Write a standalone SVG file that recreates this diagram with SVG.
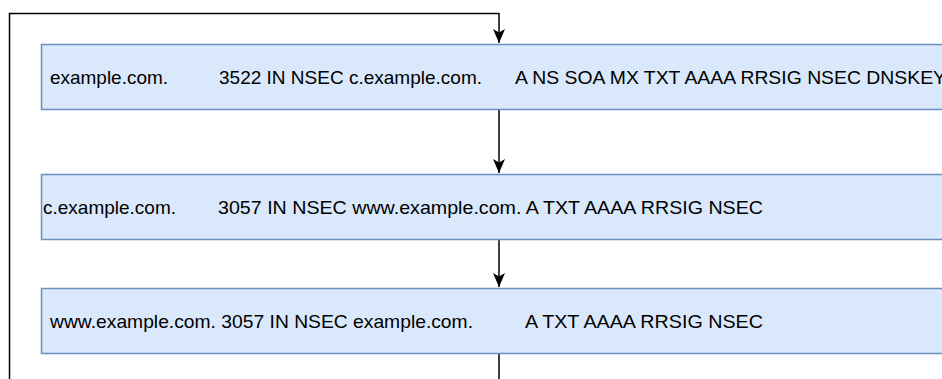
<svg xmlns="http://www.w3.org/2000/svg" width="942" height="379" viewBox="0 0 942 379">
  <style>
    .rec { fill: #dae8fc; stroke: #6c8ebf; stroke-width: 1.5; }
    .lbl { font-family: "Liberation Sans", Arial, Helvetica, sans-serif; font-size: 19px; fill: #000; }
    .edge { fill: none; stroke: #000; stroke-width: 1.5; }
  </style>
  <defs>
    <marker id="arrow" markerUnits="userSpaceOnUse" viewBox="0 0 14 12" refX="14" refY="6" markerWidth="14" markerHeight="12" orient="auto">
      <path d="M0,0 L14,6 L0,12 L3.5,6 Z" fill="#000"/>
    </marker>
  </defs>

  <!-- NSEC chain links -->
  <g id="connectors">
    <path class="edge" d="M499,110 L499,173" marker-end="url(#arrow)"/>
    <path class="edge" d="M499,239 L499,287" marker-end="url(#arrow)"/>
    <path class="edge" d="M499,353 L499,390 M9.5,390 L9.5,13.5 L499,13.5 L499,43" marker-end="url(#arrow)"/>
  </g>

  <g id="nsec-apex">
    <rect class="rec" x="41.5" y="44.5" width="920" height="65"/>
    <text class="lbl" x="50" y="84" textLength="118" lengthAdjust="spacingAndGlyphs">example.com.</text>
    <text class="lbl" x="219" y="84" textLength="263" lengthAdjust="spacingAndGlyphs">3522 IN NSEC c.example.com.</text>
    <text class="lbl" x="515" y="84" textLength="431" lengthAdjust="spacingAndGlyphs">A NS SOA MX TXT AAAA RRSIG NSEC DNSKEY</text>
  </g>

  <g id="nsec-c">
    <rect class="rec" x="41.5" y="174.5" width="920" height="65"/>
    <text class="lbl" x="43" y="214" textLength="133" lengthAdjust="spacingAndGlyphs">c.example.com.</text>
    <text class="lbl" x="218" y="214" textLength="545" lengthAdjust="spacingAndGlyphs">3057 IN NSEC www.example.com. A TXT AAAA RRSIG NSEC</text>
  </g>

  <g id="nsec-www">
    <rect class="rec" x="41.5" y="288.5" width="920" height="65"/>
    <text class="lbl" x="50" y="328" textLength="423" lengthAdjust="spacingAndGlyphs">www.example.com. 3057 IN NSEC example.com.</text>
    <text class="lbl" x="525" y="328" textLength="238" lengthAdjust="spacingAndGlyphs">A TXT AAAA RRSIG NSEC</text>
  </g>
</svg>
